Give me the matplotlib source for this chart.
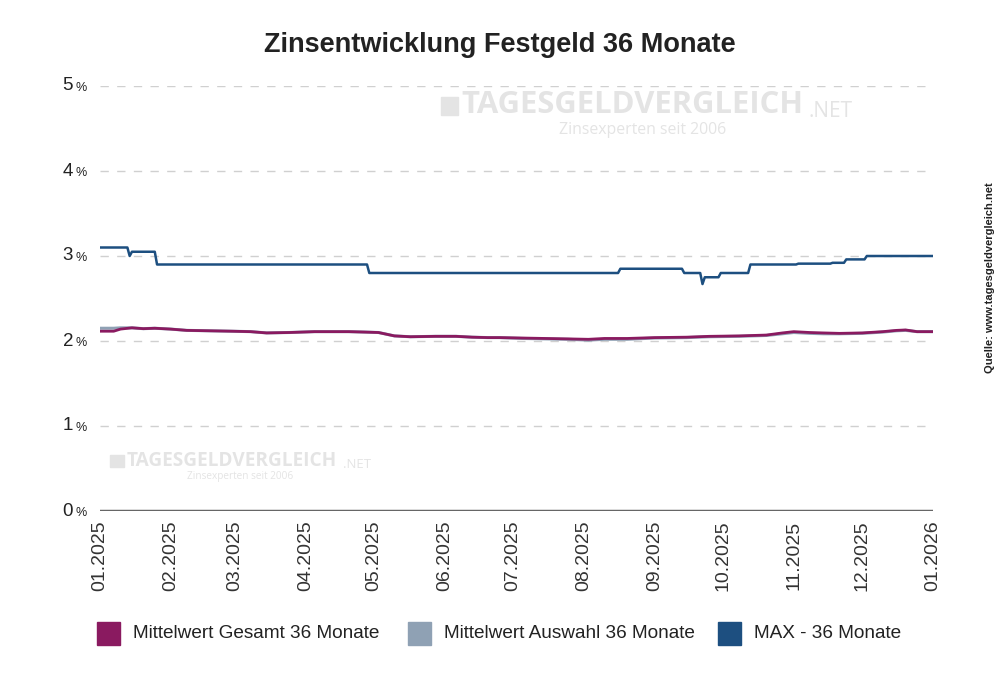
import matplotlib
matplotlib.use('Agg')
import matplotlib.pyplot as plt
import matplotlib.transforms as mtrans
from matplotlib.patches import Rectangle
import numpy as np

plt.rcParams['font.family'] = ['Liberation Sans', 'DejaVu Sans']

title = 'Zinsentwicklung Festgeld 36 Monate'
series_names = ['Mittelwert Gesamt 36 Monate', 'Mittelwert Auswahl 36 Monate', 'MAX - 36 Monate']
colors = ['#8a1a60', '#8fa1b4', '#1d4f80']

# MAX - 36 Monate (stepwise)
max_dates = ['2025-01-01', '2025-01-13', '2025-01-14', '2025-01-15', '2025-01-25', '2025-01-26',
             '2025-04-28', '2025-04-29', '2025-08-16', '2025-08-17', '2025-09-13', '2025-09-14',
             '2025-09-21', '2025-09-22', '2025-09-23', '2025-09-29', '2025-09-30', '2025-10-12',
             '2025-10-13', '2025-11-02', '2025-11-03', '2025-11-17', '2025-11-18', '2025-11-23',
             '2025-11-24', '2025-12-02', '2025-12-03', '2026-01-01']
max_vals = [3.10, 3.10, 3.00, 3.05, 3.05, 2.90,
            2.90, 2.80, 2.80, 2.85, 2.85, 2.80,
            2.80, 2.67, 2.75, 2.75, 2.80, 2.80,
            2.90, 2.90, 2.91, 2.91, 2.92, 2.92,
            2.96, 2.96, 3.00, 3.00]

# Mittelwerte
mean_dates = ['2025-01-01', '2025-01-07', '2025-01-10', '2025-01-15', '2025-01-20', '2025-01-25',
              '2025-02-01', '2025-02-08', '2025-02-18', '2025-02-28', '2025-03-08', '2025-03-15',
              '2025-03-25', '2025-04-05', '2025-04-20', '2025-04-27', '2025-05-03', '2025-05-10',
              '2025-05-17', '2025-05-28', '2025-06-06', '2025-06-13', '2025-06-20', '2025-06-25',
              '2025-07-05', '2025-07-15', '2025-07-25', '2025-08-03', '2025-08-10', '2025-08-20',
              '2025-09-01', '2025-09-15', '2025-09-25', '2025-10-08', '2025-10-20', '2025-10-27',
              '2025-11-01', '2025-11-08', '2025-11-14', '2025-11-21', '2025-12-01', '2025-12-10',
              '2025-12-16', '2025-12-20', '2025-12-25', '2026-01-01']
gesamt_vals = [2.115, 2.115, 2.14, 2.155, 2.145, 2.15,
               2.14, 2.125, 2.12, 2.115, 2.11, 2.095,
               2.10, 2.11, 2.11, 2.105, 2.10, 2.06,
               2.05, 2.055, 2.055, 2.045, 2.04, 2.04,
               2.035, 2.03, 2.025, 2.02, 2.03, 2.03,
               2.04, 2.045, 2.055, 2.06, 2.07, 2.095,
               2.11, 2.10, 2.095, 2.09, 2.095, 2.11,
               2.125, 2.13, 2.11, 2.11]
auswahl_vals = [2.15, 2.15, 2.155, 2.155, 2.145, 2.15,
                2.14, 2.125, 2.12, 2.115, 2.11, 2.095,
                2.10, 2.11, 2.11, 2.105, 2.10, 2.06,
                2.05, 2.055, 2.055, 2.045, 2.04, 2.04,
                2.03, 2.025, 2.02, 2.01, 2.02, 2.02,
                2.035, 2.04, 2.05, 2.055, 2.065, 2.085,
                2.10, 2.09, 2.085, 2.085, 2.09, 2.105,
                2.12, 2.125, 2.11, 2.11]

tick_labels = ['01.2025', '02.2025', '03.2025', '04.2025', '05.2025', '06.2025', '07.2025',
               '08.2025', '09.2025', '10.2025', '11.2025', '12.2025', '01.2026']

fig = plt.figure(figsize=(10, 6.82), dpi=100)
ax = fig.add_axes([0.100, 1 - 511 / 682, 0.833, (511 - 86) / 682])

md = np.array(max_dates, dtype='datetime64[D]')
gd = np.array(mean_dates, dtype='datetime64[D]')

ax.plot(gd, auswahl_vals, color=colors[1], lw=2.2, zorder=3)
ax.plot(gd, gesamt_vals, color=colors[0], lw=2.0, zorder=4)
ax.plot(md, max_vals, color=colors[2], lw=1.8, zorder=5)

ax.set_xlim(np.datetime64('2025-01-01'), np.datetime64('2026-01-01'))
ax.set_ylim(0, 5)

for v in [1, 2, 3, 4, 5]:
    ax.axhline(v, color='#d0d0d0', lw=1, ls=(0, (6, 6)), zorder=1)
ax.axhline(0, color='#666666', lw=2.5, zorder=2)

for s in ax.spines.values():
    s.set_visible(False)

ticks = [np.datetime64('2025-%02d-01' % m) for m in range(1, 13)] + [np.datetime64('2026-01-01')]
ax.set_xticks(ticks)
ax.set_xticklabels(tick_labels, rotation=90, fontsize=14, color='#333333')
ax.tick_params(axis='x', length=0, pad=7)
ax.set_yticks([])

# y labels with small percent sign
tr = mtrans.blended_transform_factory(fig.transFigure, ax.transData)
for v in range(6):
    fig.text(0.073, v, str(v), transform=tr, ha='right', va='center', fontsize=13.5, color='#222222')
    fig.text(0.075, v - 0.025, '%', transform=tr, ha='left', va='center', fontsize=9, color='#222222')

fig.text(0.5, 1 - 45 / 682, title, ha='center', va='center', fontsize=19.5, fontweight='bold', color='#222222')

# watermarks
wm = '#e4e4e4'
fig.patches.append(Rectangle((0.441, 1 - 115 / 682), 0.017, 18 / 682, transform=fig.transFigure,
                             color=wm, zorder=0))
fig.text(0.461, 1 - 105 / 682, 'TAGESGELDVERGLEICH', fontsize=22.3, fontweight='bold',
         family='Open Sans', color=wm, ha='left', va='center', zorder=0)
fig.text(0.809, 1 - 117 / 682, '.NET', fontsize=15, family='Open Sans', color=wm,
         ha='left', va='baseline', zorder=0)
fig.text(0.643, 1 - 130 / 682, 'Zinsexperten seit 2006', fontsize=11.4, family='Open Sans', color=wm,
         ha='center', va='center', zorder=0)
fig.patches.append(Rectangle((0.110, 1 - 467 / 682), 0.014, 12 / 682, transform=fig.transFigure,
                             color=wm, zorder=0))
fig.text(0.127, 1 - 461 / 682, 'TAGESGELDVERGLEICH', fontsize=13.7, fontweight='bold',
         family='Open Sans', color=wm, ha='left', va='center', zorder=0)
fig.text(0.343, 1 - 468 / 682, '.NET', fontsize=9.5, family='Open Sans', color=wm,
         ha='left', va='baseline', zorder=0)
fig.text(0.240, 1 - 477 / 682, 'Zinsexperten seit 2006', fontsize=7.2, family='Open Sans', color=wm,
         ha='center', va='center', zorder=0)

fig.text(0.99, 1 - 278 / 682, 'Quelle: www.tagesgeldvergleich.net', rotation=90, fontsize=8,
         fontweight='bold', ha='center', va='center', color='#222222')

# legend
leg_x = [97, 408, 718]
for x0, name, c in zip(leg_x, series_names, colors):
    fig.patches.append(Rectangle((x0 / 1000, 1 - 645 / 682), 23 / 1000, 23 / 682,
                                 transform=fig.transFigure, color=c))
    fig.text((x0 + 36) / 1000, 1 - 634 / 682, name, fontsize=13.7, ha='left', va='center', color='#222222')

fig.savefig('out.png', dpi=100)
